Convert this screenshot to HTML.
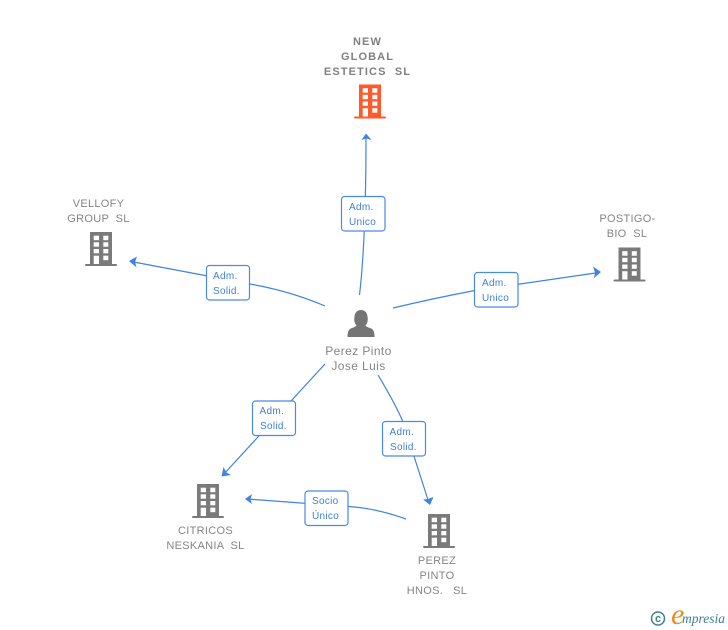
<!DOCTYPE html>
<html>
<head>
<meta charset="utf-8">
<style>
html,body{margin:0;padding:0;background:#fff;width:728px;height:630px;overflow:hidden}
svg{display:block}
text{font-family:"Liberation Sans",sans-serif}
.n{font-size:11px;fill:#858585;text-anchor:middle;letter-spacing:.3px}
.b{font-size:11px;font-weight:bold;fill:#808080;text-anchor:middle;letter-spacing:1.1px}
.p{font-size:12px;fill:#858585;text-anchor:middle;letter-spacing:.4px}
.l{font-size:10px;fill:#3f7fd8;letter-spacing:.3px}
.c{fill:none;stroke:#3f84e0;stroke-width:1.2}
.box{fill:#fff;stroke:#4a8ae2;stroke-width:1.2}
.a{fill:#3f84e0}
</style>
</head>
<body>
<svg width="728" height="630" viewBox="0 0 728 630" xmlns="http://www.w3.org/2000/svg">
<defs>
<g id="bw">
<rect x="8.7" y="3.7" width="5.3" height="4.5"/><rect x="18.3" y="3.7" width="5" height="4.5"/>
<rect x="8.7" y="10.3" width="5.3" height="4.4"/><rect x="18.3" y="10.3" width="5" height="4.4"/>
<rect x="8.7" y="17" width="5.3" height="4.3"/><rect x="18.3" y="17" width="5" height="4.3"/>
<rect x="8.7" y="23.7" width="5.3" height="8.3"/><rect x="18.3" y="23.7" width="5" height="4.5"/>
</g>
</defs>

<path class="c" d="M359.5 295 Q366 240 366 136"/>
<path class="c" d="M325 306 Q290 291 250 284 L131 261.500"/>
<path class="c" d="M393 308 Q435 298 475 290.500 L599 272.500"/>
<path class="c" d="M325 364 L223 475"/>
<path class="c" d="M378 375 Q396 405 403 422 L429 503"/>
<path class="c" d="M406 519 Q375 508 348 506.500 L247 499"/>

<polygon class="a" points="366,133.500 371.500,140 366.500,138.500 361.500,140"/>
<polygon class="a" points="129,261 137,256.500 135,262 136.500,267.500"/>
<polygon class="a" points="601,272 593,266.500 595,272.500 594,278"/>
<polygon class="a" points="221.500,476.500 223.500,467 226.500,472.500 231,475"/>
<polygon class="a" points="430,505 423,499.500 428,499 433.500,497"/>
<polygon class="a" points="245,499 252,494 250.500,499 252,504"/>

<g fill="#7a7a7a">
<g transform="translate(85,232)"><rect x="5" width="22" height="33"/><rect y="32" width="32" height="2" rx="1"/><use href="#bw" fill="#fff"/></g>
<g transform="translate(613.500,247.500)"><rect x="5" width="22" height="33"/><rect y="32" width="32" height="2" rx="1"/><use href="#bw" fill="#fff"/></g>
<g transform="translate(192,484)"><rect x="5" width="22" height="33"/><rect y="32" width="32" height="2" rx="1"/><use href="#bw" fill="#fff"/></g>
<g transform="translate(423,514)"><rect x="5" width="22" height="33"/><rect y="32" width="32" height="2" rx="1"/><use href="#bw" fill="#fff"/></g>
</g>
<g fill="#ff5a2c" transform="translate(354,84.500)"><rect x="5" width="22" height="33"/><rect y="32" width="32" height="2" rx="1"/><use href="#bw" fill="#fff"/></g>

<path fill="#757575" d="M347.500 337 C347.500 331 349 329 352 328 C354 327.300 356 326.500 356.500 325.500 C354 322.500 354 319.500 354.500 316.500 C355 312 357.500 310 361 310 C364.500 310 367 312 367.500 316.500 C368 319.500 368 322.500 365.500 325.500 C366 326.500 368 327.300 370 328 C373 329 374.500 331 374.500 337 Z"/>

<text class="b" x="367.500" y="45">NEW</text>
<text class="b" x="367.500" y="60">GLOBAL</text>
<text class="b" x="367.500" y="75" xml:space="preserve">ESTETICS  SL</text>
<text class="n" x="98.500" y="207">VELLOFY</text>
<text class="n" x="98.500" y="222" xml:space="preserve">GROUP  SL</text>
<text class="n" x="627.500" y="222">POSTIGO-</text>
<text class="n" x="627" y="237" xml:space="preserve">BIO  SL</text>
<text class="p" x="358.500" y="355">Perez Pinto</text>
<text class="p" x="358.500" y="370">Jose Luis</text>
<text class="n" x="205.500" y="534">CITRICOS</text>
<text class="n" x="205.500" y="549" xml:space="preserve">NESKANIA  SL</text>
<text class="n" x="437" y="564">PEREZ</text>
<text class="n" x="437" y="579">PINTO</text>
<text class="n" x="437" y="594" xml:space="preserve">HNOS.   SL</text>

<rect class="box" x="341.500" y="196.500" width="43.500" height="34.500" rx="3"/>
<text class="l" x="349" y="210">Adm.</text><text class="l" x="349" y="225">Unico</text>
<rect class="box" x="206.500" y="265.500" width="43" height="34.500" rx="3"/>
<text class="l" x="213" y="279">Adm.</text><text class="l" x="213" y="294">Solid.</text>
<rect class="box" x="474.500" y="272.500" width="43.500" height="34.500" rx="3"/>
<text class="l" x="482" y="286">Adm.</text><text class="l" x="482" y="301">Unico</text>
<rect class="box" x="252.500" y="401" width="43" height="34.500" rx="3"/>
<text class="l" x="259.500" y="414">Adm.</text><text class="l" x="260" y="429">Solid.</text>
<rect class="box" x="382.500" y="421.500" width="43" height="34.500" rx="3"/>
<text class="l" x="389.500" y="435">Adm.</text><text class="l" x="390" y="450">Solid.</text>
<rect class="box" x="305" y="491" width="43" height="34.500" rx="3"/>
<text class="l" x="312" y="504">Socio</text><text class="l" x="312" y="519">Único</text>

<circle cx="658" cy="618.500" r="6.500" fill="none" stroke="#3f7f92" stroke-width="1.500"/>
<text x="658" y="622" text-anchor="middle" style="font-size:11px;font-weight:bold;fill:#3f7f92">c</text>
<text x="671" y="624" style="font-family:'Liberation Serif',serif;font-size:30px;font-style:italic;fill:#f08a1c">e</text>
<text x="682" y="623" style="font-family:'Liberation Serif',serif;font-size:13.500px;font-style:italic;fill:#3f7f92">mpresia</text>
</svg>
</body>
</html>
